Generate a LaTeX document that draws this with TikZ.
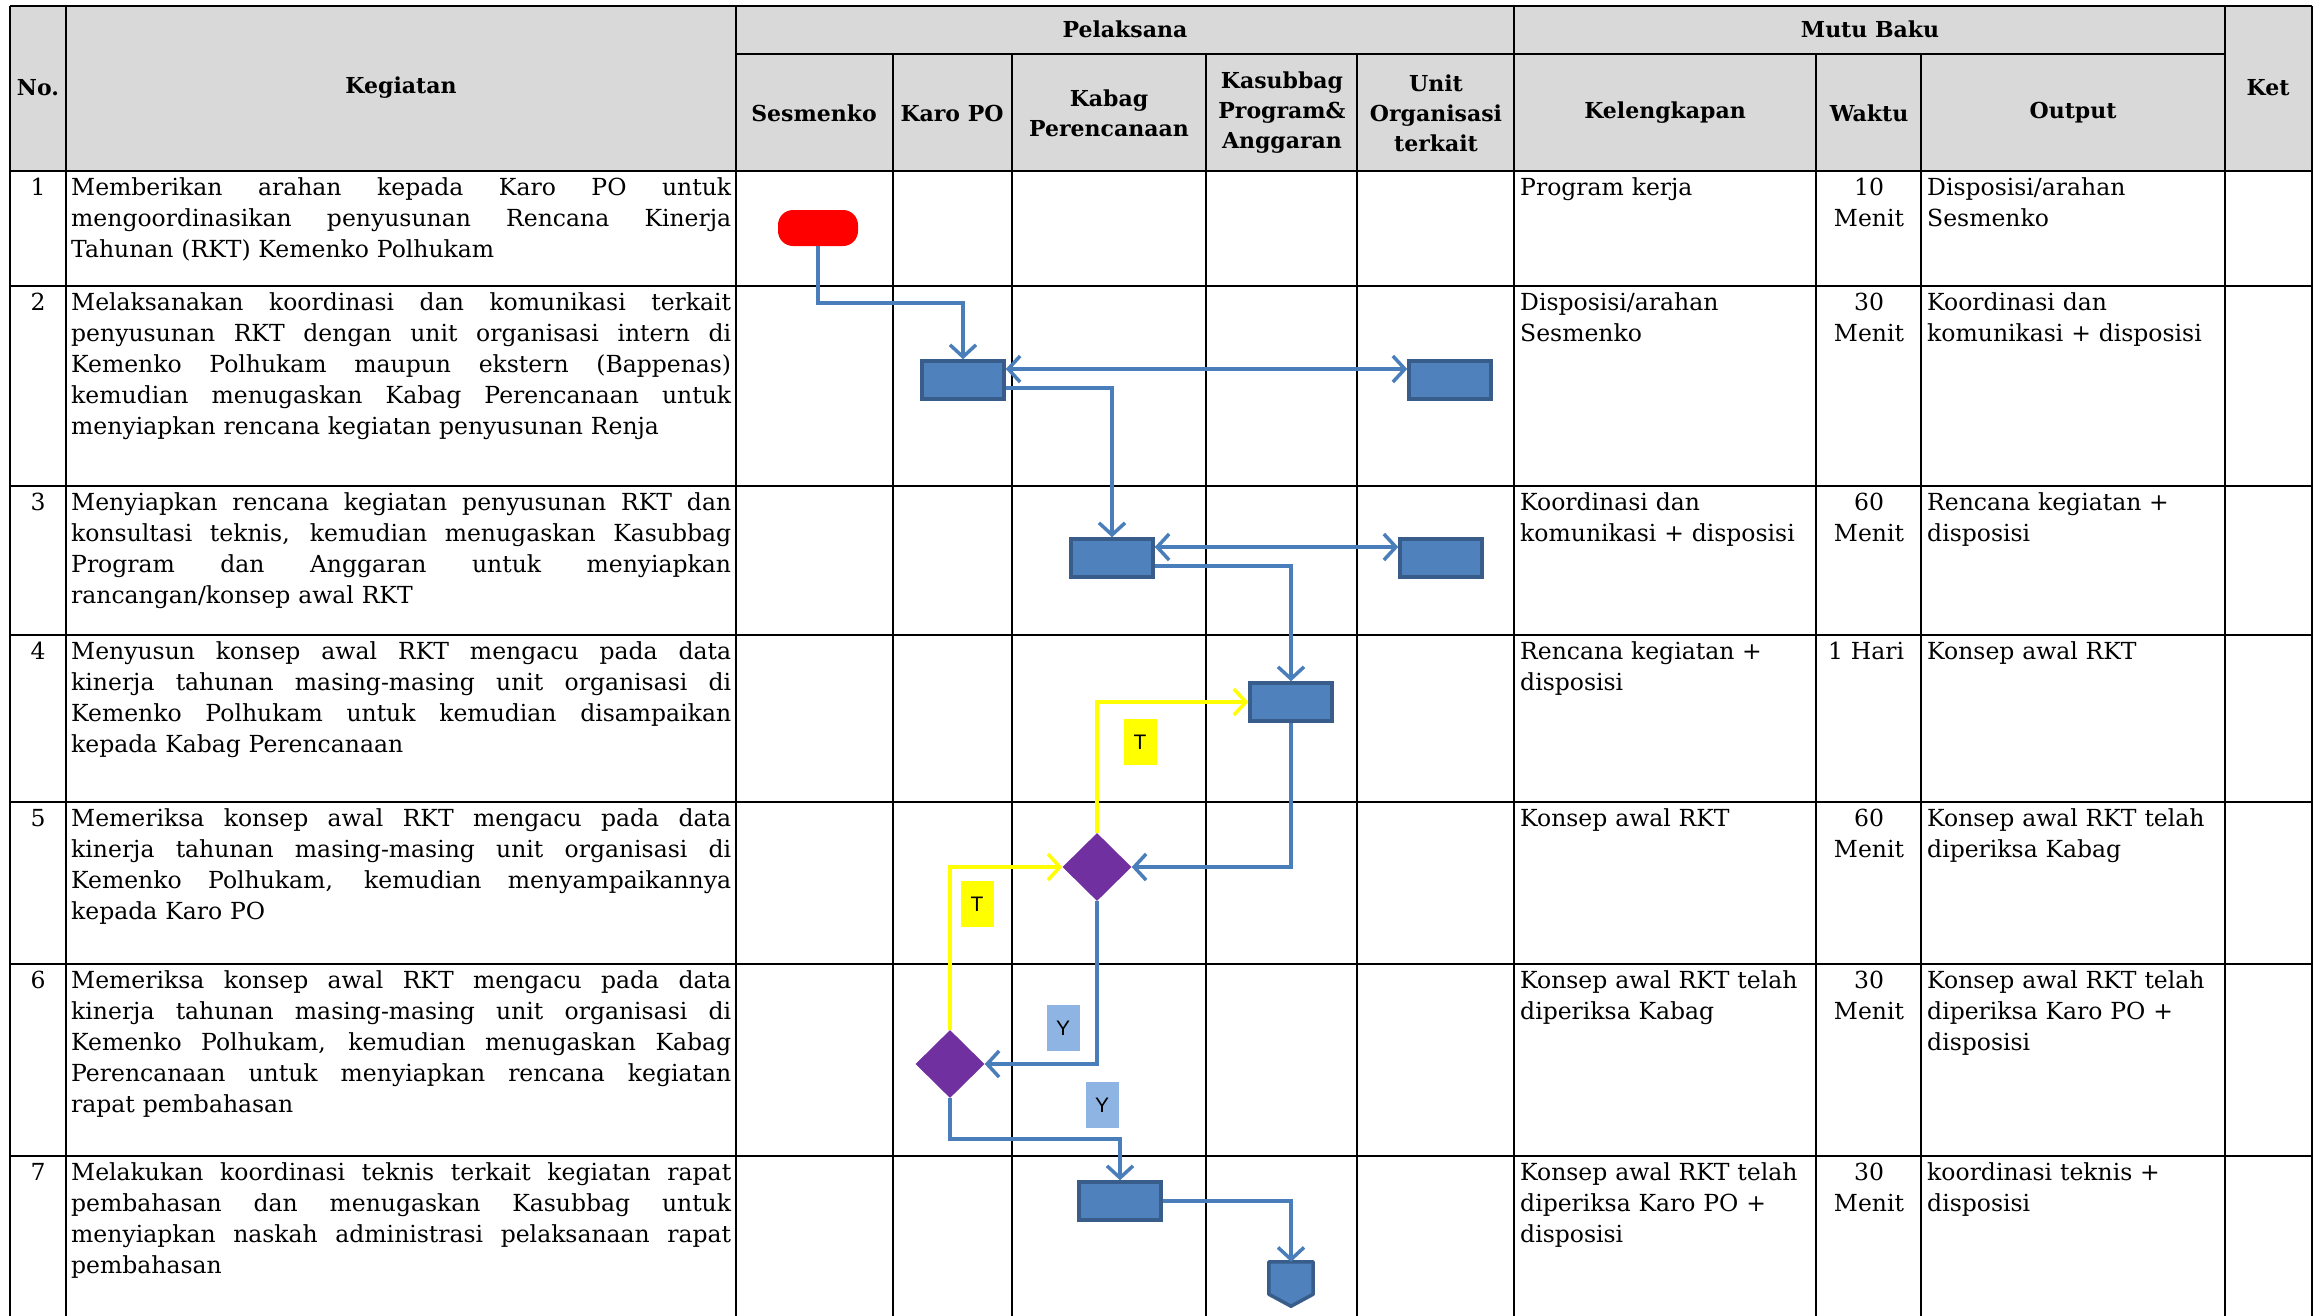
\documentclass[tikz,border=0pt]{standalone}
\usepackage{fontspec}
\setmainfont{DejaVu Serif}
\newfontfamily\lblfont{Liberation Sans}
\usetikzlibrary{shapes.geometric,arrows.meta}
\definecolor{hdr}{HTML}{D9D9D9}
\definecolor{boxfill}{HTML}{4F81BD}
\definecolor{boxdraw}{HTML}{385D8A}
\definecolor{lineblue}{HTML}{4A7EBB}
\definecolor{ylw}{HTML}{FFFF00}
\definecolor{purp}{HTML}{7030A0}
\definecolor{ylbl}{HTML}{8EB4E3}
\newcommand\KL[1]{{\spaceskip=0.3em plus 1fil\relax\makebox[660pt][s]{#1}}}
\newcommand\bodyfont{\fontsize{23.5}{31}\selectfont}
\begin{document}
\begin{tikzpicture}[x=1pt,y=-1pt,
  grid/.style={line width=2.5pt,black},
  hd/.style={font=\bfseries\fontsize{22}{30}\selectfont,align=center,inner sep=0pt},
  num/.style={anchor=base,inner sep=0pt,font=\bodyfont},
  keg/.style={anchor=base west,text width=660pt,align=left,inner sep=0pt,font=\bodyfont},
  kel/.style={anchor=base west,text width=292pt,align=left,inner sep=0pt,font=\bodyfont},
  wak/.style={anchor=base,text width=100pt,align=center,inner sep=0pt,font=\bodyfont},
  term/.style={rectangle,rounded corners=15pt,fill=red,minimum width=80pt,minimum height=36pt,inner sep=0pt},
  proc/.style={rectangle,fill=boxfill,draw=boxdraw,line width=3.5pt,minimum width=82pt,minimum height=38pt,inner sep=0pt},
  dec/.style={diamond,fill=purp,minimum width=69pt,minimum height=68pt,inner sep=0pt},
  offp/.style={rectangle,minimum width=44pt,minimum height=44pt,inner sep=0pt},
  lblT/.style={fill=ylw,minimum width=33pt,minimum height=46pt,inner sep=0pt,font=\lblfont\fontsize{21}{24}\selectfont},
  lblY/.style={fill=ylbl,minimum width=33pt,minimum height=46pt,inner sep=0pt,font=\lblfont\fontsize{21}{24}\selectfont},
  >={Straight Barb[length=12pt,width=26pt]},
  flow/.style={draw=lineblue,line width=3.5pt,->},
  yflow/.style={draw=ylw,line width=3.5pt,->}
]
\useasboundingbox (0,0) rectangle (2321,1315);
\fill[white] (0,0) rectangle (2321,1315);
\fill[hdr] (10,6) rectangle (2312,171);
% grid
\draw[grid] (10,6) -- (2312,6);
\draw[grid] (736,54) -- (2225,54);
\foreach \yy in {171,286,486,635,802,964,1156} {\draw[grid] (10,\yy) -- (2312,\yy);}
\foreach \xx in {10,66,736,1514,2225,2312} {\draw[grid] (\xx,6) -- (\xx,1316);}
\foreach \xx in {893,1012,1206,1357,1816,1921} {\draw[grid] (\xx,54) -- (\xx,1316);}
% headers
\node[hd] (hNo) at (38,88) {No.};
\node[hd] (hKeg) at (401,88) {Kegiatan};
\node[hd] (hPel) at (1125,29) {Pelaksana};
\node[hd] (hMutu) at (1870,29) {Mutu Baku};
\node[hd] (hKet) at (2268,88) {Ket};
\node[hd] (hSes) at (814,113) {Sesmenko};
\node[hd] (hKaro) at (952,113) {Karo PO};
\node[hd] (hKabag) at (1109,113) {Kabag\\Perencanaan};
\node[hd] (hKasub) at (1282,113) {Kasubbag\\Program\&\\Anggaran};
\node[hd] (hUnit) at (1436,113) {Unit\\Organisasi\\terkait};
\node[hd] (hKel) at (1665,113) {Kelengkapan};
\node[hd] (hWaktu) at (1869,113) {Waktu};
\node[hd] (hOut) at (2073,113) {Output};
% row 1
\node[num] (n1) at (38,195) {1};
\node[keg] (k1) at (71,195) {\KL{Memberikan arahan kepada Karo PO untuk}\\\KL{mengoordinasikan penyusunan Rencana Kinerja}\\Tahunan (RKT) Kemenko Polhukam};
\node[kel] (l1) at (1520,195) {Program kerja};
\node[wak] (w1) at (1869,195) {10\\Menit};
\node[kel] (o1) at (1927,195) {Disposisi/arahan\\Sesmenko};
% row 2
\node[num] (n2) at (38,310) {2};
\node[keg] (k2) at (71,310) {\KL{Melaksanakan koordinasi dan komunikasi terkait}\\\KL{penyusunan RKT dengan unit organisasi intern di}\\\KL{Kemenko Polhukam maupun ekstern (Bappenas)}\\\KL{kemudian menugaskan Kabag Perencanaan untuk}\\menyiapkan rencana kegiatan penyusunan Renja};
\node[kel] (l2) at (1520,310) {Disposisi/arahan\\Sesmenko};
\node[wak] (w2) at (1869,310) {30\\Menit};
\node[kel] (o2) at (1927,310) {Koordinasi dan\\komunikasi + disposisi};
% row 3
\node[num] (n3) at (38,510) {3};
\node[keg] (k3) at (71,510) {\KL{Menyiapkan rencana kegiatan penyusunan RKT dan}\\\KL{konsultasi teknis, kemudian menugaskan Kasubbag}\\\KL{Program dan Anggaran untuk menyiapkan}\\rancangan/konsep awal RKT};
\node[kel] (l3) at (1520,510) {Koordinasi dan\\komunikasi + disposisi};
\node[wak] (w3) at (1869,510) {60\\Menit};
\node[kel] (o3) at (1927,510) {Rencana kegiatan +\\disposisi};
% row 4
\node[num] (n4) at (38,659) {4};
\node[keg] (k4) at (71,659) {\KL{Menyusun konsep awal RKT mengacu pada data}\\\KL{kinerja tahunan masing-masing unit organisasi di}\\\KL{Kemenko Polhukam untuk kemudian disampaikan}\\kepada Kabag Perencanaan};
\node[kel] (l4) at (1520,659) {Rencana kegiatan +\\disposisi};
\node[wak] (w4) at (1866,659) {1 Hari};
\node[kel] (o4) at (1927,659) {Konsep awal RKT};
% row 5
\node[num] (n5) at (38,826) {5};
\node[keg] (k5) at (71,826) {\KL{Memeriksa konsep awal RKT mengacu pada data}\\\KL{kinerja tahunan masing-masing unit organisasi di}\\\KL{Kemenko Polhukam, kemudian menyampaikannya}\\kepada Karo PO};
\node[kel] (l5) at (1520,826) {Konsep awal RKT};
\node[wak] (w5) at (1869,826) {60\\Menit};
\node[kel] (o5) at (1927,826) {Konsep awal RKT telah\\diperiksa Kabag};
% row 6
\node[num] (n6) at (38,988) {6};
\node[keg] (k6) at (71,988) {\KL{Memeriksa konsep awal RKT mengacu pada data}\\\KL{kinerja tahunan masing-masing unit organisasi di}\\\KL{Kemenko Polhukam, kemudian menugaskan Kabag}\\\KL{Perencanaan untuk menyiapkan rencana kegiatan}\\rapat pembahasan};
\node[kel] (l6) at (1520,988) {Konsep awal RKT telah\\diperiksa Kabag};
\node[wak] (w6) at (1869,988) {30\\Menit};
\node[kel] (o6) at (1927,988) {Konsep awal RKT telah\\diperiksa Karo PO +\\disposisi};
% row 7
\node[num] (n7) at (38,1180) {7};
\node[keg] (k7) at (71,1180) {\KL{Melakukan koordinasi teknis terkait kegiatan rapat}\\\KL{pembahasan dan menugaskan Kasubbag untuk}\\\KL{menyiapkan naskah administrasi pelaksanaan rapat}\\pembahasan};
\node[kel] (l7) at (1520,1180) {Konsep awal RKT telah\\diperiksa Karo PO +\\disposisi};
\node[wak] (w7) at (1869,1180) {30\\Menit};
\node[kel] (o7) at (1927,1180) {koordinasi teknis +\\disposisi};
% flow shapes
\node[term] (s1) at (818,228) {};
\node[proc] (A) at (963,380) {};
\node[proc] (B) at (1450,380) {};
\node[proc] (C) at (1112,558) {};
\node[proc] (D) at (1441,558) {};
\node[proc] (E) at (1291,702) {};
\node[dec] (d1) at (1097,867) {};
\node[dec] (d2) at (950,1064) {};
\node[proc] (F) at (1120,1201) {};
\node[offp] (off) at (1291,1284) {};
\filldraw[fill=boxfill,draw=boxdraw,line width=3.5pt,line join=round] (off.north west) -- (off.north east) -- ([yshift=12pt]off.south east) -- (off.south) -- ([yshift=12pt]off.south west) -- cycle;
% labels
\node[lblT] (t1) at (1140,742) {T};
\node[lblT] (t2) at (977,904) {T};
\node[lblY] (y1) at (1063,1028) {Y};
\node[lblY] (y2) at (1102,1105) {Y};
% connectors
\draw[flow] (s1.south) -- ++(0,57) -| (A.north);
\draw[flow,<->] ([yshift=11pt]A.east) -- ([yshift=11pt]B.west);
\draw[flow] ([yshift=-8pt]A.east) -| (C.north);
\draw[flow,<->] ([yshift=11pt]C.east) -- ([yshift=11pt]D.west);
\draw[flow] ([yshift=-8pt]C.east) -| (E.north);
\draw[flow] (E.south) |- (d1.east);
\draw[yflow] (d1.north) |- (E.west);
\draw[flow] (d1.south) |- (d2.east);
\draw[yflow] (d2.north) |- (d1.west);
\draw[flow] (d2.south) -- ++(0,41) -| (F.north);
\draw[flow] (F.east) -| (off.north);
\end{tikzpicture}
\end{document}
